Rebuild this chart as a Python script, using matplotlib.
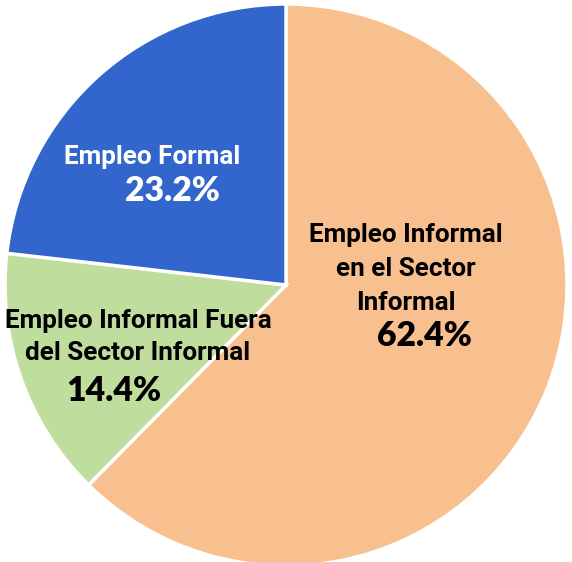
import matplotlib
matplotlib.use("Agg")
import matplotlib.pyplot as plt
from matplotlib.textpath import TextPath
from matplotlib.font_manager import FontProperties

categories = ["Empleo Informal\nen el Sector\nInformal",
              "Empleo Informal Fuera\ndel Sector Informal",
              "Empleo Formal"]
values = [62.4, 14.4, 23.2]
colors = ["#F8BF8F", "#BFDE9E", "#3366CC"]

W, H = 572, 562
fig = plt.figure(figsize=(W / 100, H / 100), dpi=100)
cx, cy, r = 286, 285, 281
ax = fig.add_axes([(cx - r) / W, (H - cy - r) / H, 2 * r / W, 2 * r / H])
ax.pie(values, colors=colors, startangle=90, counterclock=False, radius=1,
       wedgeprops=dict(edgecolor="white", linewidth=2.5))
ax.set_xlim(-1, 1)
ax.set_ylim(-1, 1)
ax.set_aspect("equal")
ax.axis("off")


def d(px, py):
    return (px - cx) / r, (cy - py) / r


lab_font = "Roboto"
pct_font = "Lato"
lab_w = "bold"
pct_w = "heavy"


def fit(text, family, weight, target_px):
    fp = FontProperties(family=family, weight=weight, size=100)
    w = TextPath((0, 0), text, prop=fp).get_extents().width
    return 100 * target_px / (w * 100 / 72)


lab_fs = fit("Empleo Informal Fuera", lab_font, lab_w, 264)
pct_fs = fit("62.4%", pct_font, pct_w, 93)

x, y = d(406, 269)
ax.text(x, y, categories[0], ha="center", va="center", fontsize=lab_fs, fontweight=lab_w,
        family=lab_font, color="black", linespacing=1.55)
x, y = d(424, 336)
ax.text(x, y, f"{values[0]:.1f}%", ha="center", va="center", fontsize=pct_fs, fontweight=pct_w,
        family=pct_font, color="black")

x, y = d(138, 337)
ax.text(x, y, categories[1], ha="center", va="center", fontsize=lab_fs, fontweight=lab_w,
        family=lab_font, color="black", linespacing=1.38)
x, y = d(114, 391)
ax.text(x, y, f"{values[1]:.1f}%", ha="center", va="center", fontsize=pct_fs, fontweight=pct_w,
        family=pct_font, color="black")

x, y = d(152, 157)
ax.text(x, y, categories[2], ha="center", va="center", fontsize=lab_fs, fontweight=lab_w,
        family=lab_font, color="white")
x, y = d(172, 191)
ax.text(x, y, f"{values[2]:.1f}%", ha="center", va="center", fontsize=pct_fs, fontweight=pct_w,
        family=pct_font, color="white")

fig.savefig("out.png", dpi=100)
